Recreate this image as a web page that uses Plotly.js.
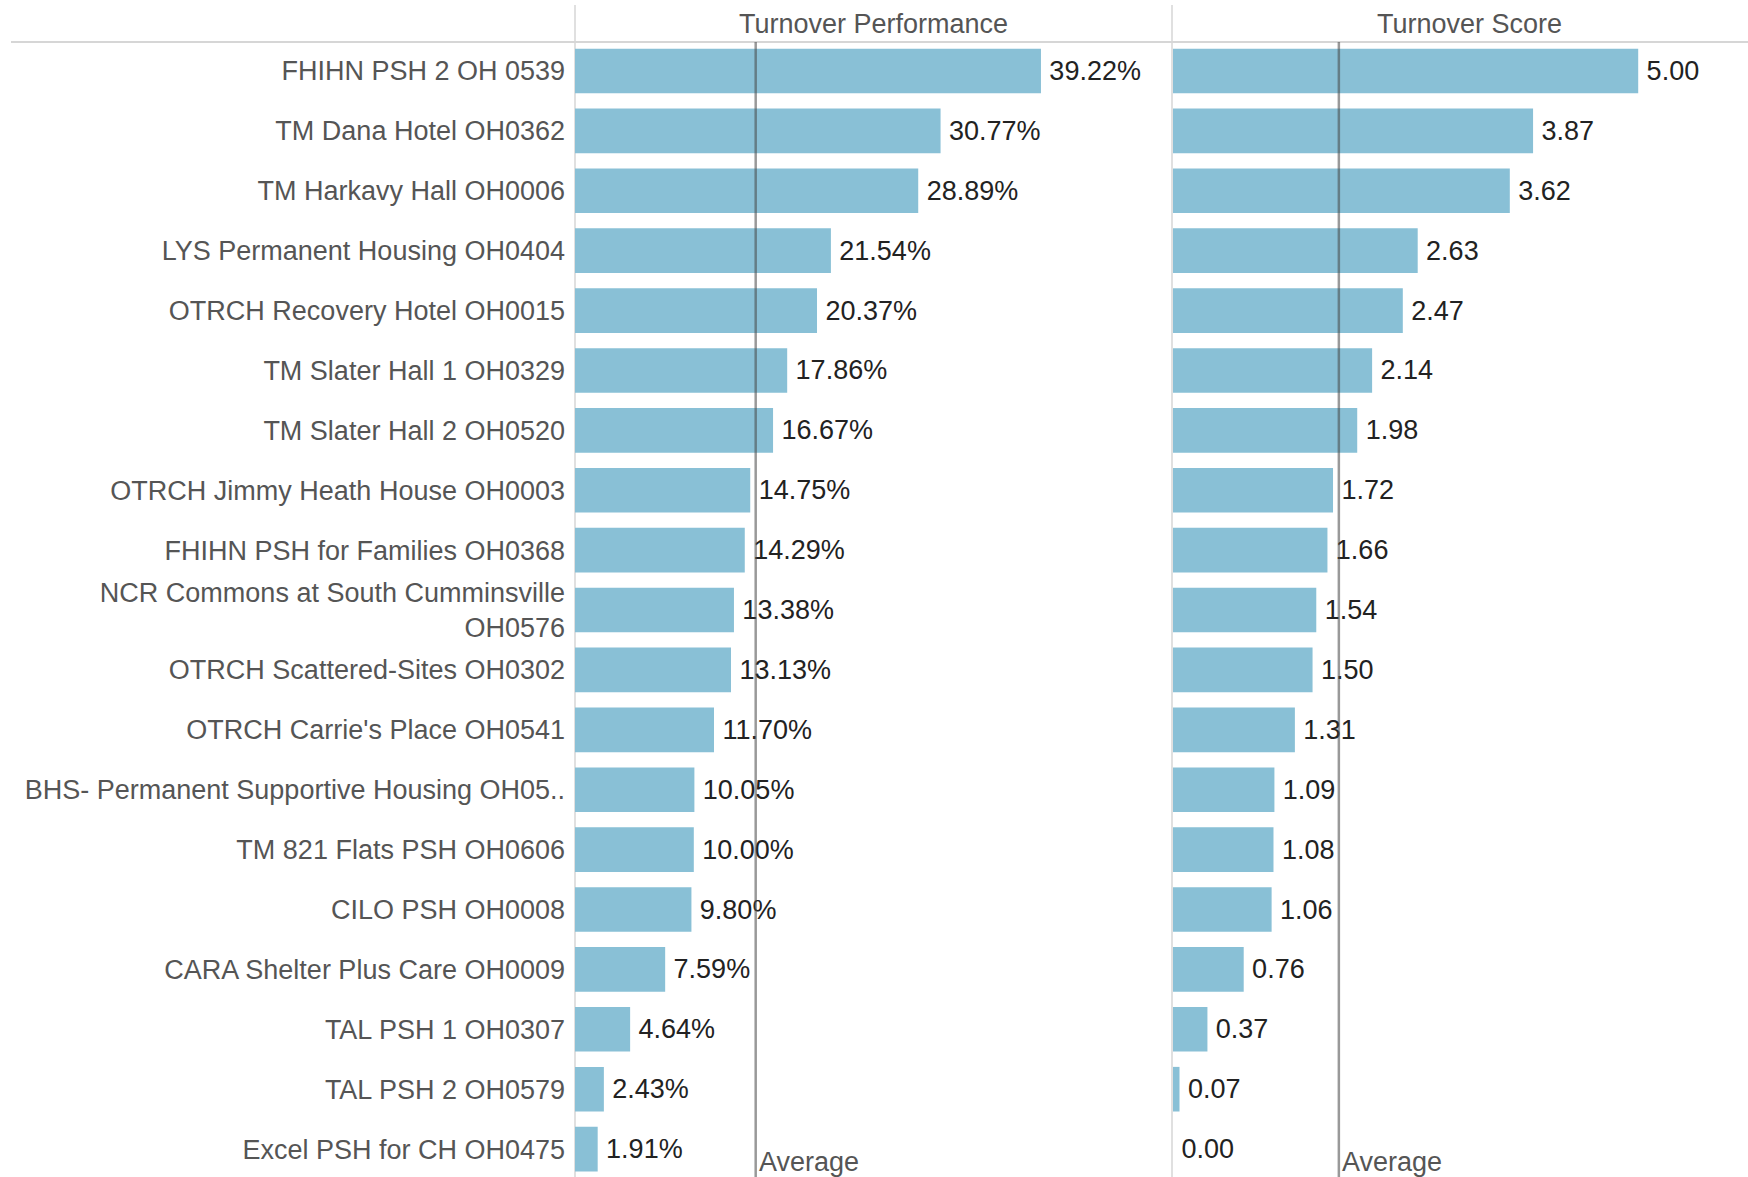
<!DOCTYPE html>
<html>
<head>
<meta charset="utf-8">
<script src="https://cdn.plot.ly/plotly-3.0.1.min.js"></script>
<style>
  html, body { margin: 0; padding: 0; background: #ffffff; }
  #chart { width: 1748px; height: 1177px; }
</style>
</head>
<body>
<div id="chart"></div>
<script>
const programs = [
  "FHIHN PSH 2 OH 0539",
  "TM Dana Hotel OH0362",
  "TM Harkavy Hall OH0006",
  "LYS Permanent Housing OH0404",
  "OTRCH Recovery Hotel OH0015",
  "TM Slater Hall 1 OH0329",
  "TM Slater Hall 2 OH0520",
  "OTRCH Jimmy Heath House OH0003",
  "FHIHN PSH for Families OH0368",
  "NCR Commons at South Cumminsville<br>OH0576",
  "OTRCH Scattered-Sites OH0302",
  "OTRCH Carrie's Place OH0541",
  "BHS- Permanent Supportive Housing OH05..",
  "TM 821 Flats PSH OH0606",
  "CILO PSH OH0008",
  "CARA Shelter Plus Care OH0009",
  "TAL PSH 1 OH0307",
  "TAL PSH 2 OH0579",
  "Excel PSH for CH OH0475"
];
const turnoverPerformance = [39.22, 30.77, 28.89, 21.54, 20.37, 17.86, 16.67, 14.75, 14.29, 13.38, 13.13, 11.70, 10.05, 10.00, 9.80, 7.59, 4.64, 2.43, 1.91];
const turnoverScore = [5.00, 3.87, 3.62, 2.63, 2.47, 2.14, 1.98, 1.72, 1.66, 1.54, 1.50, 1.31, 1.09, 1.08, 1.06, 0.76, 0.37, 0.07, 0.00];
const panelTitles = ["Turnover Performance", "Turnover Score"];
const averageLabel = "Average";

const mean = a => a.reduce((s, v) => s + v, 0) / a.length;
const avgPerf = mean(turnoverPerformance);
const avgScore = mean(turnoverScore);

const FONT = "Liberation Sans, Arial, sans-serif";
const BAR = "#89c0d6";
const GREY_TXT = "#555555";
const VAL_TXT = "#222222";
const RULE = "#d6d6d6";

const traces = [
  {
    type: "bar", orientation: "h",
    x: turnoverPerformance, y: programs,
    xaxis: "x", yaxis: "y",
    marker: { color: BAR },
    text: turnoverPerformance.map(v => "\u2009" + v.toFixed(2) + "%"),
    textposition: "outside",
    textfont: { family: FONT, size: 27, color: VAL_TXT },
    cliponaxis: false,
    hoverinfo: "skip"
  },
  {
    type: "bar", orientation: "h",
    x: turnoverScore, y: programs,
    xaxis: "x2", yaxis: "y",
    marker: { color: BAR },
    text: turnoverScore.map(v => "\u2009" + v.toFixed(2)),
    textposition: "outside",
    textfont: { family: FONT, size: 27, color: VAL_TXT },
    cliponaxis: false,
    hoverinfo: "skip"
  }
];

const leftDom = [575 / 1748, 1172 / 1748];
const rightDom = [1173 / 1748, 1];
const topExt = 1 + 37 / 1135;

const layout = {
  width: 1748, height: 1177,
  paper_bgcolor: "#ffffff", plot_bgcolor: "rgba(0,0,0,0)",
  margin: { l: 0, r: 0, t: 42, b: 0, pad: 0 },
  showlegend: false,
  bargap: 0.255,
  font: { family: FONT, size: 27, color: GREY_TXT },
  xaxis: {
    domain: leftDom, range: [0, 50.25], anchor: "y",
    showgrid: false, zeroline: false, showticklabels: false, showline: false, ticks: ""
  },
  xaxis2: {
    domain: rightDom, range: [0, 6.18], anchor: "y",
    showgrid: false, zeroline: false, showticklabels: false, showline: false, ticks: ""
  },
  yaxis: {
    domain: [0, 1], range: [18.466, -0.484], type: "category",
    anchor: "x", showgrid: false, zeroline: false, showline: false, ticks: "",
    ticklabelstandoff: 9,
    tickfont: { family: FONT, size: 27, color: GREY_TXT }
  },
  shapes: [
    { type: "line", xref: "paper", yref: "paper", x0: 11 / 1748, x1: 1, y0: 1, y1: 1,
      line: { color: RULE, width: 2 }, layer: "below" },
    { type: "line", xref: "paper", yref: "paper", x0: leftDom[0], x1: leftDom[0], y0: 0, y1: topExt,
      line: { color: RULE, width: 1.5 }, layer: "below" },
    { type: "line", xref: "paper", yref: "paper", x0: leftDom[1], x1: leftDom[1], y0: 0, y1: topExt,
      line: { color: RULE, width: 1.5 }, layer: "below" },
    { type: "line", xref: "x", yref: "paper", x0: avgPerf, x1: avgPerf, y0: 0, y1: 1,
      line: { color: "rgba(70,70,70,0.55)", width: 2.5 }, layer: "above" },
    { type: "line", xref: "x2", yref: "paper", x0: avgScore, x1: avgScore, y0: 0, y1: 1,
      line: { color: "rgba(70,70,70,0.55)", width: 2.5 }, layer: "above" }
  ],
  annotations: [
    { text: panelTitles[0], xref: "x domain", yref: "paper", x: 0.5, y: 1, xanchor: "center", yanchor: "bottom",
      yshift: 1, showarrow: false, font: { family: FONT, size: 27, color: GREY_TXT } },
    { text: panelTitles[1], xref: "x2 domain", yref: "paper", x: 0.5, y: 1, xanchor: "center", yanchor: "bottom",
      xshift: 9, yshift: 1, showarrow: false, font: { family: FONT, size: 27, color: GREY_TXT } },
    { text: averageLabel, xref: "x", yref: "paper", x: avgPerf, y: 0, xanchor: "left", yanchor: "bottom",
      xshift: 1, yshift: -2, showarrow: false, font: { family: FONT, size: 27, color: GREY_TXT } },
    { text: averageLabel, xref: "x2", yref: "paper", x: avgScore, y: 0, xanchor: "left", yanchor: "bottom",
      xshift: 1, yshift: -2, showarrow: false, font: { family: FONT, size: 27, color: GREY_TXT } }
  ]
};

Plotly.newPlot("chart", traces, layout, { staticPlot: true, displayModeBar: false });
</script>
</body>
</html>
